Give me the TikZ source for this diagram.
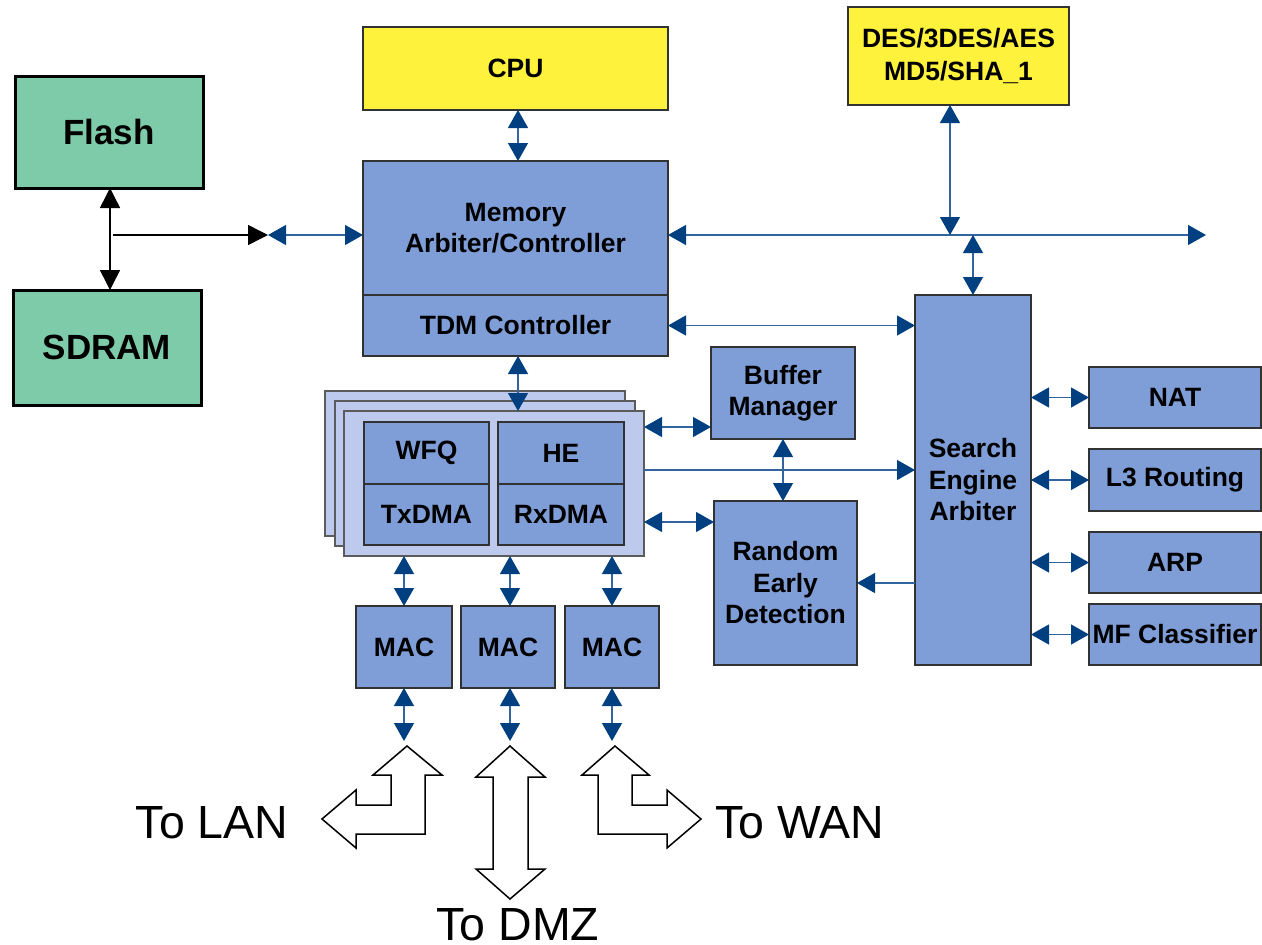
\documentclass[tikz,border=0pt]{standalone}
\usepackage{fontspec}
\setmainfont{Liberation Sans}
\usetikzlibrary{arrows.meta}
\definecolor{boxblue}{RGB}{127,158,216}
\definecolor{stackblue}{RGB}{189,201,237}
\definecolor{memgreen}{RGB}{126,203,170}
\definecolor{cpuyellow}{RGB}{255,242,60}
\definecolor{boxline}{RGB}{50,50,50}
\definecolor{headblue}{RGB}{0,64,128}
\definecolor{shaftblue}{RGB}{50,100,160}
\tikzset{
  blk/.style={draw=boxline, line width=1.1pt, fill=boxblue, inner sep=0pt, outer sep=0pt, align=center,
    font=\bfseries\fontsize{26.5}{31.5}\selectfont},
  yel/.style={blk, fill=cpuyellow, font=\bfseries\fontsize{26.5}{33}\selectfont},
  grn/.style={draw=black, line width=3pt, fill=memgreen, inner sep=0pt, outer sep=0pt,
    font=\bfseries\fontsize{35}{40}\selectfont},
  stk/.style={draw=boxline!80, line width=1.1pt, fill=stackblue, inner sep=0pt, outer sep=0pt},
  barrow/.style={draw=shaftblue, line width=1.3pt, {Triangle[length=18pt,width=20pt,color=headblue]}-{Triangle[length=18pt,width=20pt,color=headblue]}},
  sarrow/.style={draw=shaftblue, line width=1.3pt, -{Triangle[length=18pt,width=20pt,color=headblue]}},
  karrow/.style={draw=black, line width=1.5pt, {Triangle[length=20pt,width=20pt]}-{Triangle[length=20pt,width=20pt]}},
  ksarrow/.style={draw=black, line width=1.5pt, -{Triangle[length=20pt,width=20pt]}},
  bigarrow/.style={draw=black, line width=1.5pt, fill=white, line join=miter},
  bigtext/.style={font=\fontsize{46.5}{50}\selectfont, inner sep=0pt, anchor=base}
}
\begin{document}
\begin{tikzpicture}[x=1pt,y=-1pt]
\useasboundingbox (0,0) rectangle (1262,945);

% memory chips
\node[grn, minimum width=188pt, minimum height=112pt] (flash) at (109,132) {Flash};
\node[grn, minimum width=188pt, minimum height=115pt] (sdram) at (107,347.5) {SDRAM};

% CPU and memory controller
\node[yel, minimum width=305pt, minimum height=83pt] (cpu) at (515.5,68.5) {CPU};
\node[blk, minimum width=305pt, minimum height=134pt] (mem) at (515.5,228) {Memory\\Arbiter/Controller};
\node[blk, minimum width=305pt, minimum height=61pt] (tdm) at (515.5,325.5) {TDM Controller};
\node[yel, minimum width=221pt, minimum height=98pt] (des) at (958.5,56) {DES/3DES/AES\\MD5/SHA\_1};

% stacked port engines
\node[stk, minimum width=300pt, minimum height=145pt] (st1) at (475,463.5) {};
\node[stk, minimum width=300pt, minimum height=145pt] (st2) at (485,473.5) {};
\node[stk, minimum width=300pt, minimum height=145pt] (st3) at (494,483.5) {};
\node[blk, minimum width=125pt, minimum height=62pt] (wfq) at (426.5,453) {WFQ};
\node[blk, minimum width=126pt, minimum height=62pt] (he) at (561,453) {HE};
\node[blk, minimum width=125pt, minimum height=61pt] (tx) at (426.5,514.5) {TxDMA};
\node[blk, minimum width=126pt, minimum height=61pt] (rx) at (561,514.5) {RxDMA};

% middle blocks
\node[blk, minimum width=144pt, minimum height=92pt] (buf) at (783,393) {Buffer\\Manager};
\node[blk, minimum width=143pt, minimum height=164pt] (red) at (785.5,583) {Random\\Early\\Detection};
\node[blk, minimum width=116pt, minimum height=370pt] (sea) at (973,480) {Search\\Engine\\Arbiter};

% right blocks
\node[blk, minimum width=172pt, minimum height=61pt] (nat) at (1175,397.5) {NAT};
\node[blk, minimum width=172pt, minimum height=62pt] (l3) at (1175,480) {L3 Routing};
\node[blk, minimum width=172pt, minimum height=61pt] (arp) at (1175,562.5) {ARP};
\node[blk, minimum width=172pt, minimum height=61pt] (mf) at (1175,634.5) {MF Classifier};

% MACs
\node[blk, minimum width=96pt, minimum height=82pt] (mac1) at (404,647) {MAC};
\node[blk, minimum width=94pt, minimum height=82pt] (mac2) at (508,647) {MAC};
\node[blk, minimum width=94pt, minimum height=82pt] (mac3) at (612,647) {MAC};

% coordinates
\coordinate (fj) at (110,235);
\coordinate (lj) at (268,235);
\coordinate (busJ) at (950,235);
\coordinate (busK) at (973,235);
\coordinate (busR) at (1206,235);
\coordinate (t1) at (404,741);
\coordinate (t2) at (510,741);
\coordinate (t3) at (612,741);

% black memory connections
\draw[karrow] (flash.south -| fj) -- (sdram.north -| fj);
\draw[ksarrow] ([xshift=3pt]fj) -- (lj);
\draw[barrow] (lj) -- (mem.west |- lj);

% blue connectors
\draw[barrow] ([xshift=2.5pt]cpu.south) -- ([xshift=2.5pt]mem.north);
\draw[barrow] (busR) -- (mem.east |- busR);
\draw[barrow] (busJ |- des.south) -- (busJ);
\draw[barrow] (busK) -- (sea.north);
\draw[barrow] (tdm.east) -- (tdm.east -| sea.west);
\draw[barrow] ([xshift=2.5pt]tdm.south) -- ([xshift=2.5pt]tdm.south |- st3.north);

\draw[barrow] (st3.east |- 0,427) -- (buf.west |- 0,427);
\draw[sarrow] (st3.east |- 0,470) -- (sea.west |- 0,470);
\draw[barrow] (st3.east |- 0,522) -- (red.west |- 0,522);
\draw[barrow] (buf.south) -- (buf.south |- red.north);
\draw[sarrow] (sea.west |- red.east) -- (red.east);

\draw[barrow] (sea.east |- nat.west) -- (nat.west);
\draw[barrow] (sea.east |- l3.west) -- (l3.west);
\draw[barrow] (sea.east |- arp.west) -- (arp.west);
\draw[barrow] (sea.east |- mf.west) -- (mf.west);

\draw[barrow] (mac1.north |- st3.south) -- (mac1.north);
\draw[barrow] ([xshift=2pt]mac2.north |- st3.south) -- ([xshift=2pt]mac2.north);
\draw[barrow] (mac3.north |- st3.south) -- (mac3.north);
\draw[barrow] (mac1.south) -- (t1);
\draw[barrow] ([xshift=2pt]mac2.south) -- (t2);
\draw[barrow] (mac3.south) -- (t3);

% big hollow arrows
\draw[bigarrow] (407,746) -- (442,775) -- (425,775) -- (425,834) -- (356,834) -- (356,848)
  -- (322,819) -- (356,790) -- (356,805) -- (391,805) -- (391,775) -- (373,775) -- cycle;
\draw[bigarrow] (510,746) -- (545,777) -- (528,777) -- (528,869) -- (545,869) -- (510,899)
  -- (476,869) -- (493,869) -- (493,777) -- (476,777) -- cycle;
\draw[bigarrow] (615,746) -- (649,775) -- (632,775) -- (632,805) -- (667,805) -- (667,790)
  -- (701,819) -- (667,848) -- (667,834) -- (598,834) -- (598,775) -- (582,775) -- cycle;

\node[bigtext] (lan) at (212,838) {To LAN};
\node[bigtext] (dmz) at (518,940) {To DMZ};
\node[bigtext] (wan) at (800,838) {To WAN};
\end{tikzpicture}
\end{document}
